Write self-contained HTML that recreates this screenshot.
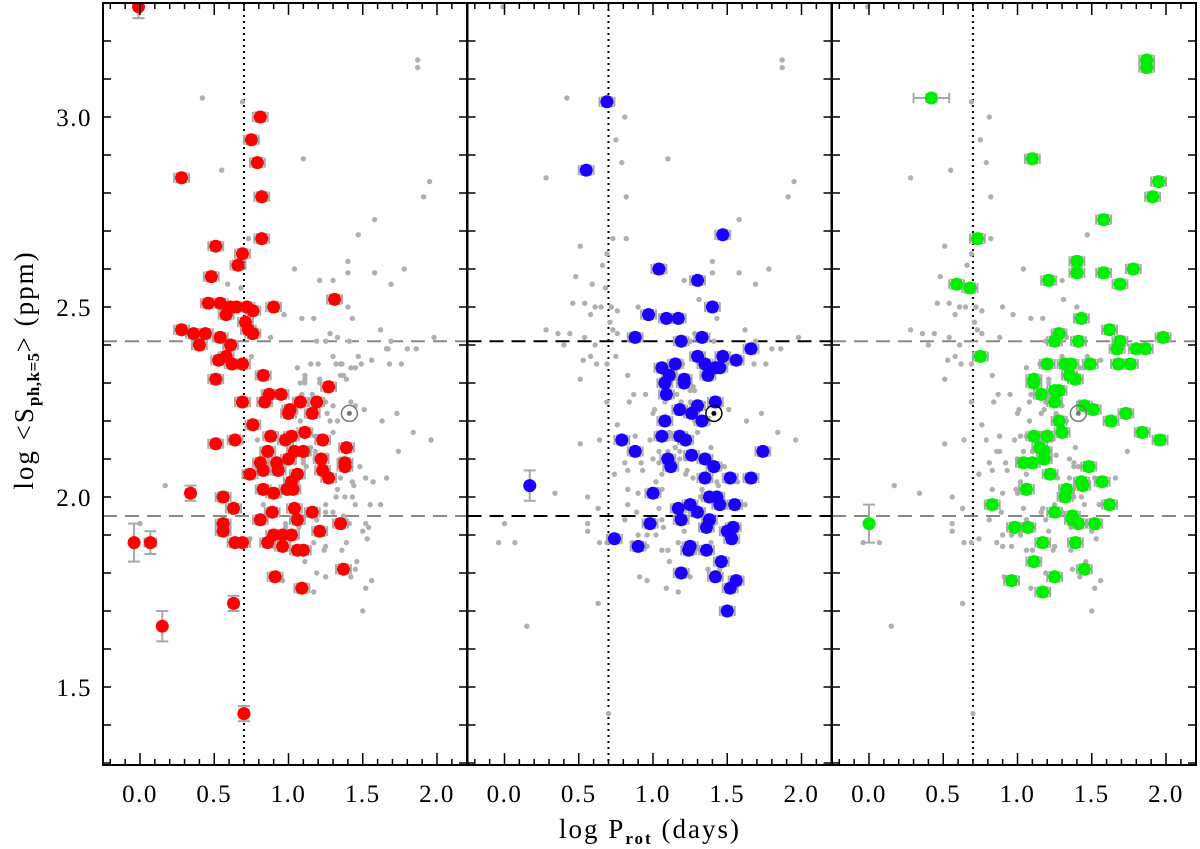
<!DOCTYPE html>
<html><head><meta charset="utf-8"><style>
html,body{margin:0;padding:0;background:#fff;}
svg{display:block;font-family:"Liberation Serif",serif;}
</style></head><body>
<svg id="chart" width="1200" height="849" viewBox="0 0 1200 849" xmlns="http://www.w3.org/2000/svg"></svg>
<script>
// ---- data: [logProt, logSph, optional yerr, optional xerr]
const redStars = [[-0.01,3.29,0.03,0],[0.81,3.0],[0.75,2.94],[0.79,2.88],[0.82,2.79],[0.82,2.68],[0.28,2.84],[0.51,2.66],[0.69,2.64],[0.66,2.61],[0.48,2.58],[1.31,2.52],[0.46,2.51],[0.54,2.51],[0.61,2.50],[0.65,2.50],[0.72,2.50],[0.76,2.49],[0.90,2.50],[0.58,2.48],[0.28,2.44],[0.71,2.46],[0.73,2.44],[0.76,2.43],[0.36,2.43],[0.44,2.43],[0.40,2.40],[0.54,2.42],[0.61,2.40],[0.53,2.36],[0.58,2.37],[0.62,2.35],[0.69,2.35],[0.83,2.32],[0.51,2.31],[0.69,2.25],[0.84,2.25],[0.87,2.27],[0.95,2.27],[1.27,2.29],[1.08,2.25],[1.19,2.25],[1.01,2.23],[1.16,2.22],[1.0,2.22],[0.76,2.19],[0.51,2.14],[0.64,2.15],[0.88,2.16],[0.98,2.15],[1.02,2.16],[1.11,2.17],[1.23,2.15],[1.39,2.13],[0.86,2.12],[0.81,2.09],[0.92,2.09],[1.0,2.10],[1.04,2.12],[1.1,2.12],[1.22,2.10],[1.38,2.09],[0.74,2.06],[0.83,2.07],[0.93,2.07],[1.06,2.06],[1.23,2.07],[1.27,2.05],[1.38,2.08],[1.02,2.04],[0.83,2.02],[0.90,2.01],[0.99,2.02],[1.03,2.02],[0.34,2.01,0.02,0.03],[0.56,2.00],[0.63,1.97],[1.04,1.97],[0.89,1.96],[1.16,1.96],[0.81,1.94],[1.06,1.94],[1.35,1.93],[0.56,1.93],[0.56,1.91],[1.21,1.91],[0.9,1.90],[0.96,1.90],[1.02,1.90],[0.86,1.88],[0.96,1.87],[0.64,1.88],[0.69,1.88],[1.06,1.86],[1.1,1.86],[-0.04,1.88,0.05,0],[0.07,1.88,0.03,0.04],[1.37,1.81],[0.91,1.79],[1.09,1.76],[0.63,1.72,0.02,0.03],[0.15,1.66,0.04,0],[0.70,1.43,0.02,0.03]];
const blueStars = [[0.69,3.04],[0.55,2.86],[1.47,2.69],[1.04,2.60],[1.30,2.57],[1.40,2.50],[0.97,2.48],[1.09,2.47],[1.17,2.47],[0.88,2.42],[1.19,2.41],[1.33,2.42],[1.66,2.39],[1.30,2.37],[1.47,2.37],[1.56,2.36],[1.15,2.35],[1.06,2.34],[1.35,2.35],[1.45,2.34],[1.42,2.34],[1.11,2.32],[1.21,2.31],[1.37,2.32],[1.08,2.30],[1.21,2.30],[1.09,2.27],[1.42,2.25],[1.30,2.24],[1.18,2.23],[1.26,2.22],[1.08,2.20],[1.33,2.20],[0.79,2.15],[1.06,2.16],[1.18,2.16],[1.22,2.15],[0.88,2.12],[1.74,2.12],[1.26,2.11],[1.10,2.10],[1.35,2.10],[1.41,2.08],[1.12,2.08],[1.35,2.05],[1.52,2.05],[1.66,2.05],[0.17,2.03,0.04,0],[1.0,2.01],[1.38,2.00],[1.43,2.00],[1.45,1.98],[1.55,1.98],[1.17,1.97],[1.25,1.98],[1.30,1.96],[1.19,1.94],[1.36,1.92],[1.38,1.94],[0.98,1.93],[1.54,1.92],[1.50,1.91],[1.53,1.89],[0.74,1.89],[0.90,1.87],[1.25,1.87],[1.24,1.86],[1.36,1.86],[1.46,1.83],[1.19,1.80],[1.42,1.79],[1.56,1.78],[1.52,1.76],[1.50,1.70]];
const greenStars = [[1.87,3.15],[1.87,3.13],[0.42,3.05,0.01,0.12],[1.10,2.89],[1.95,2.83],[1.91,2.79],[1.58,2.73],[0.73,2.68],[1.40,2.62],[1.40,2.59],[1.58,2.59],[1.78,2.60],[1.21,2.57],[0.59,2.56],[0.68,2.55],[1.69,2.56],[1.43,2.47],[1.62,2.44],[1.28,2.43],[1.98,2.42],[1.25,2.41],[1.41,2.41],[1.69,2.41],[1.67,2.39],[1.80,2.39],[1.86,2.39],[0.75,2.37],[1.20,2.35],[1.32,2.35],[1.36,2.35],[1.49,2.35],[1.68,2.35],[1.76,2.35],[1.35,2.32],[1.39,2.31],[1.11,2.31],[1.11,2.30],[1.25,2.28],[1.16,2.27],[1.28,2.28],[1.25,2.25],[1.45,2.24],[1.51,2.23],[1.73,2.22],[1.63,2.20],[1.28,2.20],[1.30,2.17],[1.84,2.17],[1.96,2.15],[1.11,2.16],[1.20,2.16],[1.15,2.13],[1.18,2.12],[1.18,2.10],[1.04,2.09],[1.10,2.09],[1.48,2.08],[1.22,2.06],[1.43,2.04],[1.44,2.03],[1.57,2.04],[1.06,2.02],[1.33,2.02],[1.32,2.00],[0.83,1.98],[1.62,1.98],[1.25,1.96],[1.37,1.95],[1.37,1.94],[1.41,1.93],[1.52,1.93],[0.0,1.93,0.05,0],[0.98,1.92],[1.07,1.92],[1.17,1.88],[1.39,1.88],[1.11,1.83],[1.45,1.81],[0.96,1.78],[1.25,1.79],[1.17,1.75]];
const sunPoint = [1.41, 2.22];
const xTickLabels = ["0.0","0.5","1.0","1.5","2.0"];
const yTickLabels = ["1.5","2.0","2.5","3.0"];
const upperThreshold = 2.41, lowerThreshold = 1.95, periodCut = 0.7;

const NS = "http://www.w3.org/2000/svg";
const svg = document.getElementById("chart");
const panelLeft = [103, 467.5, 832];
const zeroX = [140, 504.5, 869];
const PW = 364, TOP = 3, BOT = 765;
const XS = 148.5, YS = 380;
function xPix(p, v){ return zeroX[p] + v*XS; }
function yPix(v){ return 117 + (3.0 - v)*YS; }
function el(tag, attrs, parent){ const e=document.createElementNS(NS,tag); for(const k in attrs) e.setAttribute(k,attrs[k]); (parent||svg).appendChild(e); return e; }

const panels = [
 {name:"red-panel", stars:redStars, color:"#ff0000", dash:"#888", sun:"#777"},
 {name:"blue-panel", stars:blueStars, color:"#1a00ff", dash:"#000", sun:"#000"},
 {name:"green-panel", stars:greenStars, color:"#00ee00", dash:"#888", sun:"#777"}
];
const allStars = redStars.concat(blueStars, greenStars);

panels.forEach((pan, p) => {
  const g = el("g", {});
  
  
  const clipId = "clip"+p;
  const cp = el("clipPath",{id:clipId}, g);
  el("rect",{x:panelLeft[p],y:TOP,width:PW,height:BOT-TOP},cp);
  const inner = el("g",{"clip-path":"url(#"+clipId+")"}, g);
  [upperThreshold, lowerThreshold].forEach((t,i)=>{
    const l = el("line",{x1:panelLeft[p],x2:panelLeft[p]+PW,y1:yPix(t),y2:yPix(t),stroke:pan.dash,"stroke-width":2,"stroke-dasharray":"14 8"}, inner);
    
    
  });
  const vl = el("line",{x1:xPix(p,periodCut),x2:xPix(p,periodCut),y1:TOP,y2:BOT,stroke:"#000","stroke-width":2,"stroke-dasharray":"2 4"}, inner);
  
  
  allStars.forEach(s=>{
    const c = el("circle",{cx:xPix(p,s[0]),cy:yPix(s[1]),r:2.7,fill:"#b0b0b0"}, inner);
    
    
  });
  pan.stars.forEach(s=>{
    const cx=xPix(p,s[0]), cy=yPix(s[1]);
    const ye = (s[2]!==undefined?s[2]:0.012)*YS, xe=(s[3]!==undefined?s[3]:0.05)*XS;
    const eb = el("g",{stroke:"#a8a8a8","stroke-width":2,fill:"none"}, inner);
    
    
    if(xe>0){ el("line",{x1:cx-xe,x2:cx+xe,y1:cy,y2:cy},eb); el("line",{x1:cx-xe,x2:cx-xe,y1:cy-5,y2:cy+5},eb); el("line",{x1:cx+xe,x2:cx+xe,y1:cy-5,y2:cy+5},eb); }
    el("line",{x1:cx,x2:cx,y1:cy-ye,y2:cy+ye},eb); el("line",{x1:cx-6,x2:cx+6,y1:cy-ye,y2:cy-ye},eb); el("line",{x1:cx-6,x2:cx+6,y1:cy+ye,y2:cy+ye},eb);
  });
  pan.stars.forEach(s=>{
    const c = el("circle",{cx:xPix(p,s[0]),cy:yPix(s[1]),r:6.5,fill:pan.color}, inner);
    
    
  });
  const sg = el("g",{}, inner);
  
  
  el("circle",{cx:xPix(p,sunPoint[0]),cy:yPix(sunPoint[1]),r:8,fill:"none",stroke:pan.sun,"stroke-width":1.5},sg);
  el("circle",{cx:xPix(p,sunPoint[0]),cy:yPix(sunPoint[1]),r:2.5,fill:pan.sun},sg);
  const fr = el("rect",{x:panelLeft[p],y:TOP,width:PW,height:BOT-TOP,fill:"none",stroke:"#000","stroke-width":2}, g);
  
  
  for(let i=-2;i<=21;i++){
    const v=i/10, x=xPix(p,v);
    if(x<=panelLeft[p]+1||x>=panelLeft[p]+PW-1) continue;
    const len = (i%5===0)?12:6;
    el("line",{x1:x,x2:x,y1:BOT,y2:BOT-len,stroke:"#000","stroke-width":1.5},g);
    el("line",{x1:x,x2:x,y1:TOP,y2:TOP+len,stroke:"#000","stroke-width":1.5},g);
  }
  xTickLabels.forEach(lbl=>{
    const t = el("text",{x:xPix(p,parseFloat(lbl)),y:802,"text-anchor":"middle","font-size":25,"letter-spacing":1.5,fill:"#000"},g);
    t.textContent=lbl;
    
    
  });
  for(let i=13;i<=33;i++){
    const y=yPix(i/10);
    if(y<=TOP+1||y>=BOT-1) continue;
    el("line",{x1:panelLeft[p],x2:panelLeft[p]+8,y1:y,y2:y,stroke:"#000","stroke-width":1.5},g);
    el("line",{x1:panelLeft[p]+PW,x2:panelLeft[p]+PW-8,y1:y,y2:y,stroke:"#000","stroke-width":1.5},g);
  }
});
yTickLabels.forEach(lbl=>{
  const t = el("text",{x:92,y:yPix(parseFloat(lbl))+9,"text-anchor":"end","font-size":25,"letter-spacing":1.5,fill:"#000"});
  t.textContent=lbl;
  
  
});
</script>
<svg style="position:absolute;left:0;top:0" width="1200" height="849">
<text x="650" y="838" text-anchor="middle" font-family="Liberation Serif, serif" font-size="27" letter-spacing="2">log P<tspan font-size="17" font-weight="bold" dy="6">rot</tspan><tspan dy="-6"> (days)</tspan></text>
<text transform="translate(33,370) rotate(-90)" text-anchor="middle" font-family="Liberation Serif, serif" font-size="27" letter-spacing="2">log &lt;S<tspan font-size="17" font-weight="bold" dy="6" letter-spacing="0.5">ph,k=5</tspan><tspan dy="-6">&gt; (ppm)</tspan></text>
</svg>
</body></html>
